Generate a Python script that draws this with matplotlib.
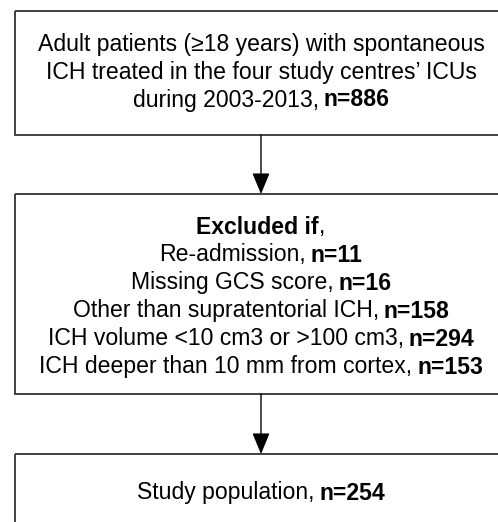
import matplotlib
matplotlib.use('Agg')
import matplotlib.pyplot as plt
from matplotlib.patches import Rectangle, FancyArrowPatch

plt.rcParams['font.family'] = ['Liberation Sans', 'DejaVu Sans']

# text of each box: list of lines, each line is a list of (text, bold) pieces
box1_lines = [
    [("Adult patients (≥18 years) with spontaneous", False)],
    [("ICH treated in the four study centres’ ICUs", False)],
    [("during 2003-2013, ", False), ("n=886", True)],
]
box2_lines = [
    [("Excluded if", True), (",", False)],
    [("Re-admission, ", False), ("n=11", True)],
    [("Missing GCS score, ", False), ("n=16", True)],
    [("Other than supratentorial ICH, ", False), ("n=158", True)],
    [("ICH volume <10 cm3 or >100 cm3, ", False), ("n=294", True)],
    [("ICH deeper than 10 mm from cortex, ", False), ("n=153", True)],
]
box3_lines = [
    [("Study population, ", False), ("n=254", True)],
]

W, H = 498, 522
fig = plt.figure(figsize=(W / 100, H / 100), dpi=100)
ax = fig.add_axes([0, 0, 1, 1])
ax.set_xlim(0, W)
ax.set_ylim(H, 0)
ax.axis('off')

edge = '#333333'
fs = 16.6
cx = 261

# boxes (top, bottom); right and lower parts run off the picture
boxes = [(11, 135), (194, 394), (454, 560)]
for top, bottom in boxes:
    ax.add_patch(Rectangle((15, top), 520, bottom - top, fill=False,
                           edgecolor=edge, lw=1.3, clip_on=False))

for (t0, b0), (t1, b1) in zip(boxes[:-1], boxes[1:]):
    ax.add_patch(FancyArrowPatch((cx, b0), (cx, t1),
                                 arrowstyle='-|>,head_length=0.65,head_width=0.27',
                                 mutation_scale=20, color='black', lw=1.0,
                                 shrinkA=0, shrinkB=0))

fig.canvas.draw()
renderer = fig.canvas.get_renderer()


def text_width(s, bold):
    t = ax.text(0, 0, s, fontsize=fs, fontweight='bold' if bold else 'normal')
    w = t.get_window_extent(renderer).width
    t.remove()
    return w


space_w = 0.75 * (text_width("a a", False) - text_width("aa", False))


def seg_width(s, bold):
    core = s.strip()
    lead = len(s) - len(s.lstrip())
    trail = len(s) - len(s.rstrip())
    return text_width(core, bold) + (lead + trail) * space_w, lead


def draw_line(pieces, y):
    widths = [seg_width(s, b) for s, b in pieces]
    total = sum(w for w, _ in widths)
    x = cx - total / 2
    for (s, b), (w, lead) in zip(pieces, widths):
        ax.text(x + lead * space_w, y, s.strip(), fontsize=fs,
                fontweight='bold' if b else 'normal', ha='left', va='center',
                color='black')
        x += w


for lines, ys in [(box1_lines, [45, 73, 100]),
                  (box2_lines, [227, 255, 283, 311, 339, 367]),
                  (box3_lines, [493])]:
    for pieces, y in zip(lines, ys):
        draw_line(pieces, y)

fig.savefig('out.png', dpi=100)
